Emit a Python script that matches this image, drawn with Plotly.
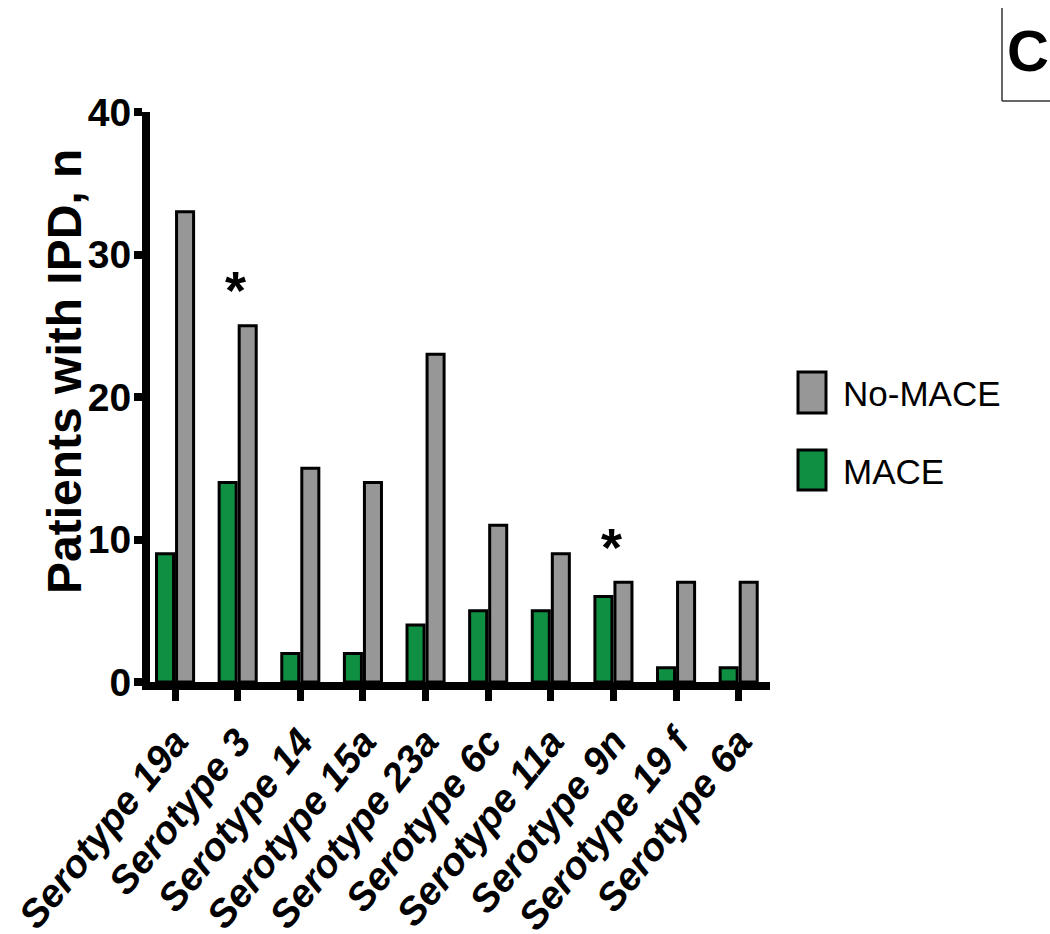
import plotly.graph_objects as go

# Serotype counts of patients with invasive pneumococcal disease
serotypes = ["Serotype 19a", "Serotype 3", "Serotype 14", "Serotype 15a", "Serotype 23a",
             "Serotype 6c", "Serotype 11a", "Serotype 9n", "Serotype 19 f", "Serotype 6a"]
mace = [9, 14, 2, 2, 4, 5, 5, 6, 1, 1]
no_mace = [33, 25, 15, 14, 23, 11, 9, 7, 7, 7]
significant = ["Serotype 3", "Serotype 9n"]
y_ticks = [0, 10, 20, 30, 40]

W, H = 1050, 934
L, R, T, B = 150, 280, 112, 252
GREEN = "#0f8f42"
GRAY = "#979797"
FONT = "Arial, Liberation Sans, sans-serif"


def px_x(p):
    return (p - L) / (W - L - R)


def px_y(p):
    return 1 - (p - T) / (H - T - B)


fig = go.Figure()
fig.add_trace(go.Bar(x=serotypes, y=mace, name="MACE",
                     marker=dict(color=GREEN, line=dict(color="black", width=3))))
fig.add_trace(go.Bar(x=serotypes, y=no_mace, name="No-MACE",
                     marker=dict(color=GRAY, line=dict(color="black", width=3))))

# significance markers above each flagged serotype
for s in significant:
    i = serotypes.index(s)
    top = max(mace[i], no_mace[i])
    fig.add_annotation(x=s, y=top + 2.5, text="*", showarrow=False,
                       font=dict(size=54, family=FONT, color="black", weight="bold"),
                       yanchor="middle", xshift=-2)

# y-axis title
fig.add_annotation(x=px_x(64), y=px_y(372), xref="paper", yref="paper",
                   xanchor="center", yanchor="middle",
                   text="Patients with IPD, n", textangle=-90, showarrow=False,
                   font=dict(size=48, family=FONT, color="black", weight="bold"))

# legend drawn as boxes with labels
legend_items = [("No-MACE", GRAY, 372, 413), ("MACE", GREEN, 450, 490)]
for label, color, y0, y1 in legend_items:
    fig.add_shape(type="rect", xref="paper", yref="paper",
                  x0=px_x(798), x1=px_x(826), y0=px_y(y1), y1=px_y(y0),
                  fillcolor=color, line=dict(color="black", width=3))
    fig.add_annotation(x=px_x(841), y=px_y((y0 + y1) / 2 + 1), xref="paper", yref="paper",
                       text=label, showarrow=False, xanchor="left", yanchor="middle",
                       font=dict(size=35, family=FONT, color="black"))

# panel letter in its corner frame
fig.add_shape(type="line", xref="paper", yref="paper",
              x0=px_x(1002), x1=px_x(1002), y0=px_y(8), y1=px_y(101),
              line=dict(color="#333333", width=1.5))
fig.add_shape(type="line", xref="paper", yref="paper",
              x0=px_x(1002), x1=px_x(1052), y0=px_y(101), y1=px_y(101),
              line=dict(color="#333333", width=1.5))
fig.add_annotation(x=px_x(1028), y=px_y(51), xref="paper", yref="paper",
                   text="C", showarrow=False, xanchor="center", yanchor="middle",
                   font=dict(size=58, family=FONT, color="black", weight="bold"))

fig.update_layout(
    width=W, height=H,
    margin=dict(l=L, r=R, t=T, b=B, autoexpand=False),
    paper_bgcolor="white", plot_bgcolor="white",
    barmode="group", bargap=0.36, bargroupgap=0.15,
    showlegend=False,
    font=dict(family=FONT, color="black"),
)
fig.update_xaxes(
    type="category", range=[-0.4, 9.5], automargin=False,
    showline=True, linecolor="black", linewidth=8,
    ticks="outside", ticklen=11, tickwidth=7, tickcolor="black",
    tickangle=-51, showgrid=False, zeroline=False, ticklabelstandoff=2,
    tickfont=dict(size=39, family=FONT, color="black", weight="bold", style="italic"),
)
fig.update_yaxes(
    range=[0, 40], tickvals=y_ticks, automargin=False,
    showline=True, linecolor="black", linewidth=8,
    ticks="outside", ticklen=8, tickwidth=8, tickcolor="black",
    showgrid=False, zeroline=False, ticklabelstandoff=-5,
    tickfont=dict(size=39, family=FONT, color="black", weight="bold"),
)

fig.write_html("out.html")
